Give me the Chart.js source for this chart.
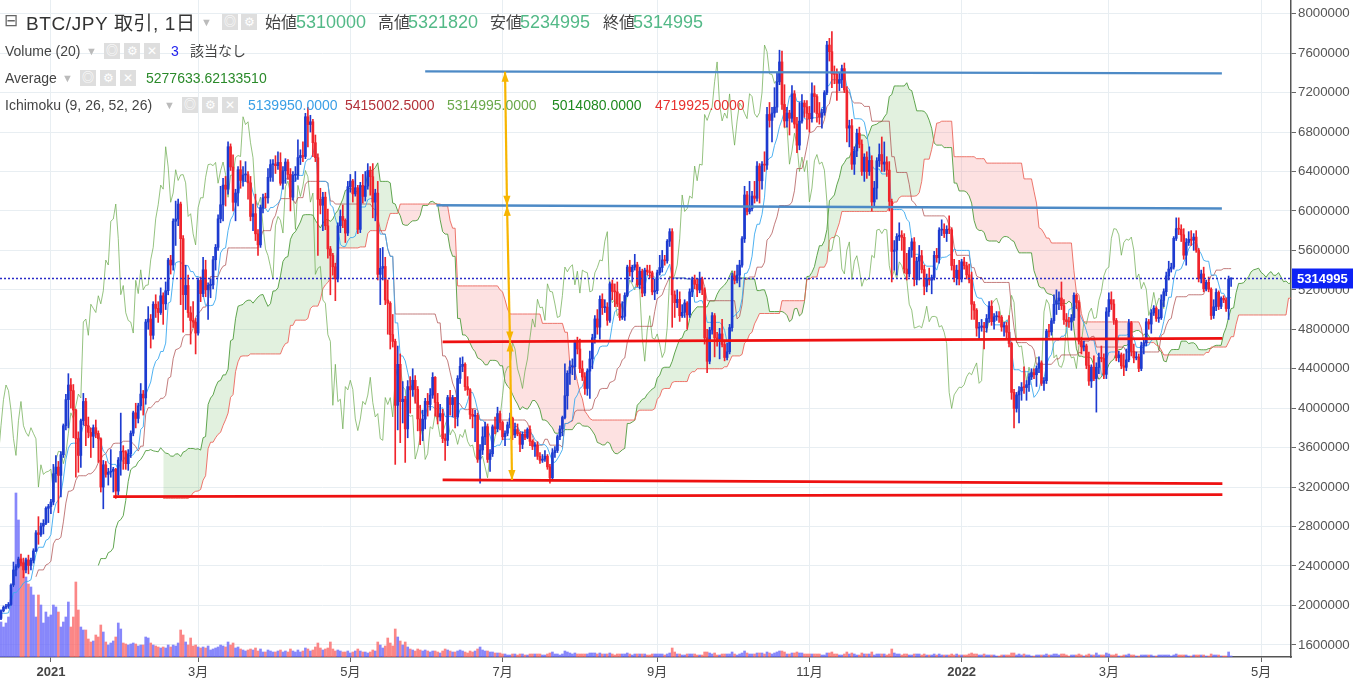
<!DOCTYPE html>
<html><head><meta charset="utf-8">
<script src="https://cdn.jsdelivr.net/npm/chart.js@4.4.1/dist/chart.umd.min.js"></script>
<style>
html,body{margin:0;padding:0;background:#fff;overflow:hidden}
#wrap{position:relative;width:1353px;height:685px}
#c{position:absolute;left:0;top:0}
#legend{position:absolute;left:0;top:0;width:800px;height:120px;pointer-events:none;font-family:'Liberation Sans','Noto Sans CJK JP',sans-serif;color:#444}
#legend span{position:absolute;white-space:nowrap;line-height:1}
.ic{width:16px;height:16px;background:#dedede;color:#fff;font-size:12px;line-height:16px!important;text-align:center}
.r1{font-size:18px}
.r2{font-size:14px}
.jp{font-family:'Noto Sans CJK JP',sans-serif}
.dd{color:#bbb;font-size:11px}
</style></head>
<body><div id="wrap"><canvas id="c" width="1353" height="685"></canvas>
<div id="legend">
 <span class="r1" style="left:4px;top:12px;color:#666;font-size:17px">⊟</span>
 <span class="r1" style="left:26px;top:12px;color:#333;font-size:19px;letter-spacing:0.6px">BTC/JPY <span class="jp" style="position:static">取引</span>, 1<span class="jp" style="position:static">日</span></span>
 <span class="dd" style="left:201px;top:17px">▼</span>
 <span class="ic" style="left:222px;top:14px">◎</span><span class="ic" style="left:241px;top:14px">⚙</span>
 <span class="jp" style="left:265px;top:13px;font-size:16px;color:#444">始値</span><span class="r1" style="left:296px;top:13px;color:#53b987">5310000</span>
 <span class="jp" style="left:378px;top:13px;font-size:16px;color:#444">高値</span><span class="r1" style="left:408px;top:13px;color:#53b987">5321820</span>
 <span class="jp" style="left:490px;top:13px;font-size:16px;color:#444">安値</span><span class="r1" style="left:520px;top:13px;color:#53b987">5234995</span>
 <span class="jp" style="left:603px;top:13px;font-size:16px;color:#444">終値</span><span class="r1" style="left:633px;top:13px;color:#53b987">5314995</span>

 <span class="r2" style="left:5px;top:44px">Volume (20)</span>
 <span class="dd" style="left:86px;top:46px">▼</span>
 <span class="ic" style="left:104px;top:43px">◎</span><span class="ic" style="left:124px;top:43px">⚙</span><span class="ic" style="left:144px;top:43px">✕</span>
 <span class="r2" style="left:171px;top:44px;color:#2222ee">3</span>
 <span class="jp" style="left:190px;top:43px;font-size:14px">該当なし</span>

 <span class="r2" style="left:5px;top:71px">Average</span>
 <span class="dd" style="left:62px;top:73px">▼</span>
 <span class="ic" style="left:80px;top:70px">◎</span><span class="ic" style="left:100px;top:70px">⚙</span><span class="ic" style="left:120px;top:70px">✕</span>
 <span class="r2" style="left:146px;top:71px;color:#2a8a2a">5277633.62133510</span>

 <span class="r2" style="left:5px;top:98px">Ichimoku (9, 26, 52, 26)</span>
 <span class="dd" style="left:164px;top:100px">▼</span>
 <span class="ic" style="left:182px;top:97px">◎</span><span class="ic" style="left:202px;top:97px">⚙</span><span class="ic" style="left:222px;top:97px">✕</span>
 <span class="r2" style="left:248px;top:98px;color:#3a9fe6">5139950.0000</span>
 <span class="r2" style="left:345px;top:98px;color:#b3323a">5415002.5000</span>
 <span class="r2" style="left:447px;top:98px;color:#6aa84a">5314995.0000</span>
 <span class="r2" style="left:552px;top:98px;color:#1f8a1f">5014080.0000</span>
 <span class="r2" style="left:655px;top:98px;color:#e8312f">4719925.0000</span>
</div></div>
<script>
// Daily bars from 2020-12-01 (day -31) to 2022-04-19 (day 473); day 0 = 2021-01-01.
// Prices in units of 10,000 JPY; volumes in units of 1,000 BTC.
const firstDay = -31;
const opens = [
204.0,194.6,198.7,201.3,193.5,198.2,200.2,198.6,189.6,192.0,189.0,186.9,194.6,198.1,199.2,201.0,220.6,236.0,239.5,247.0,243.0,236.0,246.2,240.5,245.7,255.3,273.6,271.9,280.3,283.2,298.5,
300.2,304.9,333.5,340.3,331.9,352.8,382.2,408.7,423.5,417.8,398.1,369.2,352.1,387.3,406.8,382.2,375.5,371.5,380.2,374.4,369.0,320.0,342.6,332.9,335.2,336.0,338.1,315.9,347.4,356.2,355.7,
343.7,353.8,374.6,395.3,389.6,402.4,414.3,410.4,487.4,490.4,473.9,505.4,501.2,497.0,514.0,505.8,519.1,550.2,545.2,589.6,591.8,607.0,571.9,515.1,524.4,496.8,488.9,487.3,
476.2,529.6,516.2,540.3,520.0,524.5,525.0,550.5,563.1,592.0,606.3,626.2,622.1,665.1,644.6,608.8,618.2,641.8,630.9,636.5,636.8,628.5,594.4,597.2,576.8,565.6,603.3,613.4,613.3,634.1,647.0,
647.5,645.9,649.2,628.1,640.7,649.6,637.1,613.9,636.2,636.4,654.1,656.2,655.2,695.5,687.6,690.4,669.2,654.0,611.8,605.8,614.0,584.9,561.5,554.8,543.4,531.1,585.0,594.4,590.5,577.6,
624.6,630.3,617.3,623.5,581.3,625.9,614.7,625.2,641.0,634.7,608.9,618.1,535.7,541.9,543.7,509.7,506.4,474.6,467.7,402.9,444.5,406.6,409.1,379.0,421.9,418.6,428.3,419.0,389.1,377.3,388.9,
406.9,403.7,413.3,431.3,405.8,391.1,394.5,369.2,367.4,410.8,403.7,410.7,391.1,430.1,442.4,444.5,421.8,418.6,393.7,391.8,392.7,348.4,357.6,371.0,381.3,348.0,353.8,381.1,379.0,394.5,
385.5,371.0,374.6,383.1,389.9,372.9,378.3,374.1,363.3,373.5,370.4,378.4,366.4,361.4,362.7,351.2,347.2,348.4,351.3,340.5,329.4,354.8,357.1,371.1,378.9,390.6,412.6,435.4,441.9,442.1,466.7,
460.0,440.1,431.6,420.0,437.6,449.9,471.4,490.5,482.2,510.4,501.9,502.5,489.1,526.1,518.4,517.9,505.7,492.0,493.2,514.3,543.1,538.3,542.9,545.4,525.1,538.9,516.7,540.0,538.3,537.3,517.9,
519.2,537.3,542.6,550.3,549.4,569.3,579.0,514.9,507.0,510.3,493.7,497.2,506.7,494.6,518.0,530.0,525.6,519.9,531.1,519.9,471.3,447.6,479.3,493.8,471.2,469.9,475.3,464.6,451.4,457.2,
481.7,534.1,529.6,535.0,545.1,571.8,616.2,599.5,602.3,615.1,612.9,645.5,630.6,647.4,646.5,697.8,691.8,699.3,705.3,731.0,751.1,708.0,691.3,699.3,694.0,718.7,688.1,666.7,691.1,709.4,705.5,
699.0,693.6,718.9,716.0,698.7,695.0,699.6,720.0,768.2,761.5,739.0,738.5,729.4,733.0,744.3,722.6,684.0,686.4,647.4,660.8,678.8,667.7,640.0,654.6,639.9,651.2,609.1,623.2,650.9,657.2,
647.5,649.6,641.4,609.7,559.0,560.3,574.1,575.4,573.2,541.1,536.2,560.2,568.6,530.5,549.1,554.6,540.6,523.6,531.5,529.8,532.5,555.0,552.5,580.6,581.4,577.1,581.4,580.8,544.6,532.3,539.9,
531.0,548.4,544.5,535.2,530.2,505.4,499.4,481.2,482.1,483.4,481.5,490.9,503.4,487.7,492.7,493.1,492.3,482.3,483.7,477.0,465.6,416.0,399.7,413.5,417.5,421.3,420.9,423.8,431.8,436.0,433.9,
440.3,445.9,425.2,427.9,478.2,477.4,488.7,505.4,508.9,511.7,503.9,489.6,487.8,487.4,491.7,514.4,507.3,467.8,462.2,463.1,443.5,427.5,441.6,430.0,441.4,451.5,450.4,434.3,
497.7,510.1,505.6,489.0,451.1,454.1,443.0,441.4,449.0,486.6,457.5,451.0,452.0,440.2,463.3,466.2,487.6,485.3,496.6,501.4,491.0,491.8,509.4,518.1,534.1,541.1,543.0,572.2,582.0,581.5,575.8,
555.1,568.0,571.4,570.3,573.5,560.3,531.4,536.1,521.1,527.6,520.6,494.0,502.8,517.4,503.2,511.4,509.7,501.0,531.0];
const highs = [
206.5,200.5,203.5,202.0,199.5,201.5,202.0,199.5,194.0,193.5,190.0,195.5,199.5,201.0,203.0,222.0,244.0,241.5,249.0,252.0,248.0,248.0,251.0,248.0,257.5,276.0,290.0,283.5,287.0,300.0,302.5,
307.5,343.0,352.0,346.0,356.0,384.0,414.0,435.0,430.0,424.0,399.0,376.0,389.0,415.0,410.0,391.0,380.0,383.0,388.0,377.0,370.0,347.0,346.0,339.0,358.0,340.0,339.0,350.0,395.0,362.0,357.0,
358.0,377.0,397.0,405.0,405.0,425.0,418.0,490.0,503.0,495.0,508.0,515.0,508.0,522.0,517.0,528.0,552.0,555.0,592.0,610.0,612.0,609.0,575.0,545.0,535.0,503.0,508.0,491.0,
532.0,533.0,553.0,550.0,527.0,531.0,554.0,566.0,596.0,625.0,633.0,635.0,670.0,668.0,657.0,622.0,645.0,651.0,645.0,650.0,640.0,635.0,607.0,617.0,581.0,606.0,617.0,618.0,643.0,652.0,652.0,
656.0,660.0,659.0,645.0,653.0,652.0,643.0,640.0,645.0,672.0,662.0,670.0,699.0,705.0,697.0,693.0,677.0,658.0,623.0,619.0,619.0,602.0,564.0,557.0,547.0,588.0,601.0,606.0,592.0,630.0,
637.0,632.0,640.0,626.0,629.0,637.0,640.0,648.0,645.0,648.0,622.0,630.0,562.0,563.0,553.0,530.0,508.0,495.0,470.0,463.0,455.0,427.0,412.0,428.0,432.0,440.0,433.0,422.0,403.0,398.0,410.0,
415.0,420.0,436.0,432.0,415.0,404.0,399.0,374.0,413.0,418.0,413.0,411.0,433.0,451.0,452.0,446.0,432.0,420.0,399.0,398.0,395.0,363.0,381.0,386.0,384.0,358.0,383.0,391.0,401.0,397.0,
387.0,377.0,386.0,395.0,391.0,385.0,384.0,376.0,376.0,378.0,380.0,382.0,368.0,365.0,366.0,355.0,353.0,357.0,353.0,343.0,359.0,361.0,373.0,382.0,392.0,445.0,438.0,448.0,450.0,469.0,472.0,
470.0,448.0,436.0,440.0,458.0,475.0,494.0,500.0,514.0,516.0,510.0,507.0,528.0,530.0,526.0,528.0,516.0,508.0,517.0,545.0,550.0,545.0,556.0,548.0,543.0,541.0,542.0,545.0,545.0,539.0,531.0,
540.0,555.0,560.0,555.0,571.0,582.0,582.0,519.0,520.0,518.0,505.0,510.0,508.0,521.0,533.0,535.0,531.0,538.0,533.0,522.0,480.0,482.0,497.0,496.0,477.0,481.0,490.0,469.0,466.0,485.0,
537.0,539.0,545.0,550.0,574.0,625.0,620.0,630.0,620.0,630.0,650.0,648.0,650.0,660.0,705.0,710.0,705.0,725.0,740.0,763.0,762.0,728.0,705.0,702.0,727.0,722.0,695.0,710.0,718.0,712.0,712.0,
706.0,730.0,727.0,718.0,710.0,703.0,722.0,772.0,775.0,782.0,747.0,744.0,740.0,748.0,750.0,726.0,692.0,693.0,665.0,683.0,685.0,672.0,658.0,660.0,665.0,656.0,630.0,654.0,668.0,675.0,
670.0,655.0,650.0,612.0,570.0,577.0,588.0,580.0,577.0,557.0,563.0,572.0,573.0,553.0,565.0,560.0,545.0,536.0,542.0,535.0,559.0,562.0,583.0,591.0,587.0,585.0,595.0,583.0,551.0,545.0,550.0,
551.0,553.0,548.0,546.0,538.0,508.0,501.0,487.0,490.0,487.0,495.0,508.0,509.0,496.0,498.0,498.0,494.0,487.0,487.0,494.0,467.0,419.0,416.0,422.0,426.0,442.0,428.0,435.0,440.0,440.0,443.0,
452.0,448.0,431.0,480.0,485.0,491.0,515.0,520.0,518.0,528.0,510.0,496.0,492.0,495.0,517.0,516.0,509.0,472.0,468.0,465.0,457.0,444.0,453.0,446.0,456.0,463.0,455.0,502.0,
517.0,518.0,510.0,491.0,458.0,456.0,455.0,460.0,490.0,488.0,465.0,457.0,455.0,467.0,470.0,491.0,490.0,500.0,504.0,503.0,500.0,515.0,521.0,538.0,549.0,547.0,574.0,593.0,593.0,586.0,582.0,
572.0,579.0,580.0,577.0,580.0,562.0,540.0,543.0,530.0,533.0,522.0,510.0,521.0,519.0,513.0,514.0,512.0,534.0,532.182];
const lows = [
189.0,192.0,196.5,192.0,191.5,196.0,197.0,187.5,182.5,186.5,182.0,185.5,193.5,196.5,197.0,200.0,219.0,230.0,238.0,240.0,228.0,233.0,232.0,236.0,243.0,254.5,262.0,270.0,272.5,282.0,284.0,
293.0,302.0,325.0,294.0,310.0,350.0,378.0,380.0,400.0,370.0,330.0,335.0,340.0,383.0,362.0,370.0,350.0,360.0,370.0,345.0,315.0,298.0,330.0,322.0,330.0,315.0,308.5,312.0,332.0,338.0,338.0,
337.0,350.0,372.0,380.0,385.0,398.0,393.0,404.0,480.0,461.0,470.0,492.0,487.0,495.0,485.0,500.0,515.0,536.0,540.0,565.0,585.0,505.0,477.0,500.0,492.0,465.0,482.0,455.0,
474.0,508.0,513.0,513.0,490.0,512.0,521.0,540.0,560.0,588.0,590.0,605.0,617.0,641.0,600.0,590.0,605.0,623.0,625.0,630.0,612.0,590.0,580.0,570.0,555.0,563.0,598.0,603.0,608.0,630.0,630.0,
638.0,642.0,626.0,622.0,628.0,632.0,600.0,611.0,630.0,632.0,647.0,650.0,653.0,665.0,680.0,655.0,650.0,555.0,597.0,580.0,581.0,552.0,515.0,535.0,509.0,528.0,578.0,583.0,568.0,575.0,
619.0,609.0,615.0,577.0,578.0,608.0,610.0,622.0,616.0,593.0,590.0,530.0,505.0,530.0,505.0,475.0,460.0,462.0,343.0,378.0,365.0,385.0,345.0,370.0,395.0,412.0,405.0,377.0,363.0,367.0,379.0,
392.0,398.0,410.0,392.0,384.0,387.0,365.0,347.0,362.0,393.0,391.0,380.0,382.0,425.0,437.0,418.0,413.0,389.0,380.0,366.0,345.0,324.0,353.0,363.0,345.0,336.0,351.0,374.0,376.0,378.0,
368.0,362.0,372.0,380.0,368.0,370.0,372.0,356.0,359.0,368.0,369.0,362.0,358.0,351.0,348.0,344.0,345.0,346.0,338.0,324.0,327.0,350.0,355.0,368.0,372.0,389.0,399.0,424.0,434.0,429.0,455.0,
436.0,428.0,414.0,413.0,410.0,440.0,466.0,475.0,470.0,495.0,497.0,484.0,487.0,510.0,503.0,503.0,489.0,490.0,489.0,513.0,534.0,528.0,540.0,523.0,521.0,513.0,514.0,535.0,532.0,515.0,510.0,
516.0,535.0,538.0,545.0,547.0,564.0,482.0,492.0,502.0,488.0,492.0,492.0,480.0,492.0,513.0,521.0,513.0,517.0,515.0,465.0,436.0,445.0,475.0,452.0,463.0,450.0,462.0,448.0,449.0,455.0,
478.0,526.0,527.0,523.0,543.0,568.0,596.0,597.0,600.0,608.0,610.0,608.0,622.0,640.0,642.0,685.0,670.0,695.0,700.0,728.0,703.0,685.0,685.0,677.0,690.0,684.0,659.0,662.0,689.0,695.0,683.0,
680.0,690.0,700.0,690.0,688.0,684.0,697.0,718.0,752.0,725.0,729.0,712.0,722.0,725.0,720.0,670.0,665.0,642.0,637.0,655.0,664.0,636.0,630.0,633.0,636.0,600.0,605.0,612.0,645.0,640.0,
640.0,635.0,600.0,528.0,540.0,535.0,570.0,560.0,537.0,530.0,533.0,553.0,524.0,525.0,530.0,537.0,515.0,518.0,525.0,516.0,530.0,548.0,547.0,575.0,573.0,569.0,577.0,540.0,528.0,525.0,525.0,
528.0,541.0,531.0,527.0,490.0,490.0,473.0,470.0,478.0,460.0,477.0,487.0,484.0,480.0,489.0,487.0,478.0,473.0,470.0,462.0,409.0,380.0,396.0,385.0,408.0,415.0,408.0,417.0,429.0,430.0,422.0,
436.0,423.0,418.0,425.0,472.0,474.0,486.0,495.0,500.0,500.0,485.0,483.0,482.0,479.0,489.0,501.0,465.0,455.0,458.0,440.0,423.0,421.0,428.0,396.0,435.0,447.0,430.0,430.0,
493.0,500.0,485.0,448.0,447.0,440.0,433.0,438.0,447.0,453.0,446.0,449.0,437.0,438.0,455.0,463.0,480.0,476.0,494.0,488.0,487.0,490.0,503.0,514.0,530.0,538.0,541.0,570.0,576.0,569.0,551.0,
545.0,565.0,565.0,560.0,558.0,528.0,527.0,518.0,519.0,518.0,490.0,491.0,499.0,500.0,501.0,507.0,498.0,490.0,523.4995];
const closes = [
194.6,198.7,201.3,193.5,198.2,200.2,198.6,189.6,192.0,189.0,186.9,194.6,198.1,199.2,201.0,220.6,236.0,239.5,247.0,243.0,236.0,246.2,240.5,245.7,255.3,273.6,271.9,280.3,283.2,298.5,300.2,
304.9,333.5,340.3,331.9,352.8,382.2,408.7,423.5,417.8,398.1,369.2,352.1,387.3,406.8,382.2,375.5,371.5,380.2,374.4,369.0,320.0,342.6,332.9,335.2,336.0,338.1,315.9,347.4,356.2,355.7,343.7,
353.8,374.6,395.3,389.6,402.4,414.3,410.4,487.4,490.4,473.9,505.4,501.2,497.0,514.0,505.8,519.1,550.2,545.2,589.6,591.8,607.0,571.9,515.1,524.4,496.8,488.9,487.3,476.2,
529.6,516.2,540.3,520.0,524.5,525.0,550.5,563.1,592.0,606.3,626.2,622.1,665.1,644.6,608.8,618.2,641.8,630.9,636.5,636.8,628.5,594.4,597.2,576.8,565.6,603.3,613.4,613.3,634.1,647.0,647.5,
645.9,649.2,628.1,640.7,649.6,637.1,613.9,636.2,636.4,654.1,656.2,655.2,695.5,687.6,690.4,669.2,654.0,611.8,605.8,614.0,584.9,561.5,554.8,543.4,531.1,585.0,594.4,590.5,577.6,624.6,
630.3,617.3,623.5,581.3,625.9,614.7,625.2,641.0,634.7,608.9,618.1,535.7,541.9,543.7,509.7,506.4,474.6,467.7,402.9,444.5,406.6,409.1,379.0,421.9,418.6,428.3,419.0,389.1,377.3,388.9,406.9,
403.7,413.3,431.3,405.8,391.1,394.5,369.2,367.4,410.8,403.7,410.7,391.1,430.1,442.4,444.5,421.8,418.6,393.7,391.8,392.7,348.4,357.6,371.0,381.3,348.0,353.8,381.1,379.0,394.5,385.5,
371.0,374.6,383.1,389.9,372.9,378.3,374.1,363.3,373.5,370.4,378.4,366.4,361.4,362.7,351.2,347.2,348.4,351.3,340.5,329.4,354.8,357.1,371.1,378.9,390.6,412.6,435.4,441.9,442.1,466.7,460.0,
440.1,431.6,420.0,437.6,449.9,471.4,490.5,482.2,510.4,501.9,502.5,489.1,526.1,518.4,517.9,505.7,492.0,493.2,514.3,543.1,538.3,542.9,545.4,525.1,538.9,516.7,540.0,538.3,537.3,517.9,519.2,
537.3,542.6,550.3,549.4,569.3,579.0,514.9,507.0,510.3,493.7,497.2,506.7,494.6,518.0,530.0,525.6,519.9,531.1,519.9,471.3,447.6,479.3,493.8,471.2,469.9,475.3,464.6,451.4,457.2,481.7,
534.1,529.6,535.0,545.1,571.8,616.2,599.5,602.3,615.1,612.9,645.5,630.6,647.4,646.5,697.8,691.8,699.3,705.3,731.0,751.1,708.0,691.3,699.3,694.0,718.7,688.1,666.7,691.1,709.4,705.5,699.0,
693.6,718.9,716.0,698.7,695.0,699.6,720.0,768.2,761.5,739.0,738.5,729.4,733.0,744.3,722.6,684.0,686.4,647.4,660.8,678.8,667.7,640.0,654.6,639.9,651.2,609.1,623.2,650.9,657.2,647.5,
649.6,641.4,609.7,559.0,560.3,574.1,575.4,573.2,541.1,536.2,560.2,568.6,530.5,549.1,554.6,540.6,523.6,531.5,529.8,532.5,555.0,552.5,580.6,581.4,577.1,581.4,580.8,544.6,532.3,539.9,531.0,
548.4,544.5,535.2,530.2,505.4,499.4,481.2,482.1,483.4,481.5,490.9,503.4,487.7,492.7,493.1,492.3,482.3,483.7,477.0,465.6,416.0,399.7,413.5,417.5,421.3,420.9,423.8,431.8,436.0,433.9,440.3,
445.9,425.2,427.9,478.2,477.4,488.7,505.4,508.9,511.7,503.9,489.6,487.8,487.4,491.7,514.4,507.3,467.8,462.2,463.1,443.5,427.5,441.6,430.0,441.4,451.5,450.4,434.3,497.7,
510.1,505.6,489.0,451.1,454.1,443.0,441.4,449.0,486.6,457.5,451.0,452.0,440.2,463.3,466.2,487.6,485.3,496.6,501.4,491.0,491.8,509.4,518.1,534.1,541.1,543.0,572.2,582.0,581.5,575.8,555.1,
568.0,571.4,570.3,573.5,560.3,531.4,536.1,521.1,527.6,520.6,494.0,502.8,517.4,503.2,511.4,509.7,501.0,531.0,531.4995];
const volumes = [
13.5,12.6,12.0,14.1,11.4,10.5,12.0,13.5,15.0,12.6,11.4,10.5,9.0,10.2,12.0,17.1,21.0,49.2,41.1,29.4,28.5,24.0,21.9,21.0,18.6,12.0,18.6,15.6,10.2,13.5,12.0,
12.6,15.6,15.0,13.5,9.0,10.5,12.0,16.5,9.0,12.0,22.5,14.1,9.0,8.1,8.1,5.4,4.5,4.8,6.6,6.0,9.6,7.5,4.5,3.6,4.2,4.8,6.0,10.2,8.4,4.2,3.9,
3.6,3.9,4.2,3.9,3.3,3.6,3.6,6.0,5.7,4.2,3.6,3.3,3.0,2.7,3.0,2.7,3.6,3.0,3.6,3.3,4.2,8.1,6.6,4.5,3.6,5.7,3.3,3.6,
3.0,2.7,3.0,2.7,3.3,2.1,2.4,2.7,3.0,3.6,3.3,3.0,4.5,3.6,4.2,2.7,3.0,2.4,2.1,1.8,2.1,2.4,2.1,2.7,1.8,2.4,1.5,1.5,2.1,1.8,1.5,
1.5,1.8,2.1,1.5,1.8,1.5,2.4,1.8,1.5,2.1,1.5,1.8,2.7,2.4,1.8,2.1,3.0,4.2,2.7,2.1,2.4,2.7,4.5,2.4,1.8,2.1,1.8,1.5,1.5,1.8,
1.2,1.5,1.8,2.4,1.8,1.5,1.5,1.2,1.5,2.1,1.8,4.5,3.6,2.7,3.3,5.7,4.2,3.3,8.4,6.0,4.8,3.6,4.5,3.0,2.4,2.1,1.8,2.4,2.1,1.8,2.1,
1.8,1.5,1.8,1.8,1.5,1.2,1.8,2.4,2.1,1.8,1.5,1.5,1.8,2.1,1.8,1.5,1.2,1.8,1.5,1.8,2.4,3.0,2.1,1.8,1.8,1.5,1.5,1.2,1.2,1.2,
0.9,0.9,0.6,0.6,0.9,0.9,0.6,0.9,0.9,0.6,0.6,0.9,0.9,0.9,0.9,0.9,0.6,0.6,0.9,1.2,1.5,0.9,0.9,0.6,0.9,1.8,1.5,1.2,0.9,1.2,0.9,
0.9,0.9,0.9,0.9,1.2,1.2,1.2,0.9,1.2,0.9,0.9,0.9,1.2,0.9,0.6,0.9,0.9,0.9,0.9,1.2,0.9,0.6,0.9,0.9,0.9,0.9,0.9,0.6,0.6,0.9,0.9,
0.9,0.9,0.9,0.6,0.9,1.2,2.7,1.5,0.9,0.9,0.6,0.6,0.9,0.9,0.9,0.9,0.6,0.6,0.6,1.5,1.5,1.2,0.9,1.2,0.6,0.6,0.9,0.9,0.9,0.9,
1.5,0.9,0.6,0.9,1.2,1.8,1.2,0.9,0.9,0.9,1.2,1.2,1.2,0.9,1.5,1.2,0.9,1.2,1.5,1.8,1.8,1.5,0.9,0.9,1.2,1.2,1.5,1.2,1.2,0.9,0.9,
0.9,0.9,0.9,0.9,0.9,0.6,0.6,1.2,1.2,1.5,0.9,0.9,0.6,0.6,0.9,1.5,0.9,1.2,0.9,0.6,0.6,1.2,0.9,0.9,0.9,1.5,0.6,0.9,0.9,0.9,
0.9,0.6,0.9,2.4,1.2,0.9,0.9,0.6,0.9,0.9,0.6,0.6,0.9,0.9,0.9,0.6,0.9,0.6,0.6,0.6,0.9,0.6,0.9,0.6,0.6,0.6,0.6,0.9,0.6,0.9,0.6,
0.6,0.6,0.6,0.9,1.2,0.9,0.9,0.6,0.6,0.9,0.6,0.6,0.6,0.6,0.3,0.3,0.6,0.6,0.6,0.6,1.2,1.2,0.6,0.9,0.6,0.9,0.6,0.6,0.3,0.3,0.6,
0.6,0.6,0.6,0.9,0.6,0.6,0.9,0.9,0.6,0.9,0.9,0.6,0.3,0.6,0.6,0.6,0.9,0.6,0.3,0.6,0.9,0.6,0.6,1.2,0.6,0.6,0.6,1.2,
0.9,0.6,0.6,0.9,0.3,0.3,0.6,0.6,0.9,0.6,0.6,0.3,0.3,0.6,0.6,0.6,0.6,0.6,0.3,0.3,0.6,0.6,0.6,0.6,0.6,0.3,0.6,0.9,0.6,0.6,0.6,
0.6,0.3,0.3,0.6,0.6,0.6,0.6,0.6,0.3,0.3,0.9,0.6,0.6,0.6,0.3,0.3,0.3,1.5,0.3];

// Axis ticks
const monthTickDays = [0, 59, 120, 181, 243, 304, 365, 424, 485];
const monthTickLabels = ['2021', '3月', '5月', '7月', '9月', '11月', '2022', '3月', '5月'];
const yearTickDays = [0, 365];
const yTickValues = [1600000,2000000,2400000,2800000,3200000,3600000,4000000,4400000,4800000,5200000,5600000,6000000,6400000,6800000,7200000,7600000,8000000];
const xRange = [-20.4, 497.0];
const yRange = [1477000, 8139000];

// Hand-drawn level lines (day, JPY)
const levelStartDays = [150.0, 154.5, 157.0, 157.0, 25.0];
const levelEndDays = [469.3, 469.3, 469.5, 469.5, 469.5];
const levelStartPrices = [7415000, 6058000, 4672000, 3273000, 3104000];
const levelEndPrices = [7395000, 6025000, 4708000, 3236000, 3124000];
// Measuring arrow (yellow): segment end points
const arrowDays = [182.0, 182.8, 184.0, 184.8];
const arrowPrices = [7412000, 6052000, 4676000, 3272000];

const MAN = 10000;
const N = closes.length;
const dayOf = i => firstDay + i;
const up = closes.map((c, i) => c >= opens[i]);

const UPC = '#1d3bd0', DNC = '#f0242c';
const wick = [], body = [], vol = [];
for (let i = 0; i < N; i++) {
  wick.push({x: dayOf(i), y: [lows[i]*MAN, highs[i]*MAN]});
  body.push({x: dayOf(i), y: [opens[i]*MAN, closes[i]*MAN]});
  vol.push({x: dayOf(i), y: volumes[i]});
}
function mid(i, p) {
  if (i < p - 1) return null;
  let h = -Infinity, l = Infinity;
  for (let k = i - p + 1; k <= i; k++) { if (highs[k] > h) h = highs[k]; if (lows[k] < l) l = lows[k]; }
  return (h + l) / 2 * MAN;
}
const tenkan = [], kijun = [], spanA = [], spanB = [], chikou = [];
for (let i = 0; i < N; i++) {
  const t = mid(i, 9), k = mid(i, 26), b = mid(i, 52);
  if (t !== null) tenkan.push({x: dayOf(i), y: t});
  if (k !== null) kijun.push({x: dayOf(i), y: k});
  if (t !== null && k !== null) spanA.push({x: dayOf(i + 25), y: (t + k) / 2});
  if (b !== null) spanB.push({x: dayOf(i + 25), y: b});
  chikou.push({x: dayOf(i - 25), y: closes[i] * MAN});
}
const lastPrice = Math.round(closes[N - 1] * MAN);

const lineBase = {type: 'line', pointRadius: 0, borderWidth: 1, tension: 0, yAxisID: 'y', xAxisID: 'x'};
const datasets = [
  Object.assign({}, lineBase, {data: spanA, borderColor: 'rgba(70,150,50,0.85)', order: 20,
    fill: {target: '+1', above: 'rgba(110,185,95,0.2)', below: 'rgba(245,120,120,0.22)'}}),
  Object.assign({}, lineBase, {data: spanB, borderColor: 'rgba(235,95,85,0.85)', order: 19, fill: false}),
  {type: 'bar', data: vol, yAxisID: 'vol', xAxisID: 'x', grouped: false, barThickness: 2,
    backgroundColor: up.map(u => u ? 'rgba(105,105,250,0.8)' : 'rgba(250,105,105,0.8)'), order: 15},
  Object.assign({}, lineBase, {data: chikou, borderColor: 'rgba(105,170,75,0.7)', order: 12}),
  Object.assign({}, lineBase, {data: kijun, borderColor: 'rgba(170,70,70,0.7)', order: 11}),
  Object.assign({}, lineBase, {data: tenkan, borderColor: 'rgba(60,170,240,0.9)', order: 10}),
  {type: 'bar', data: wick, yAxisID: 'y', xAxisID: 'x', grouped: false, barThickness: 1,
    backgroundColor: up.map(u => u ? UPC : DNC), order: 5},
  {type: 'bar', data: body, yAxisID: 'y', xAxisID: 'x', grouped: false, barThickness: 2, minBarLength: 1,
    backgroundColor: up.map(u => u ? UPC : DNC), order: 4},
  Object.assign({}, lineBase, {data: [{x: xRange[0], y: lastPrice}, {x: xRange[1], y: lastPrice}],
    borderColor: '#2a2ac8', borderWidth: 1.3, borderDash: [2, 2], order: 3})
];
for (let j = 0; j < levelStartDays.length; j++) {
  const red = j >= 2;
  datasets.push(Object.assign({}, lineBase, {
    data: [{x: levelStartDays[j], y: levelStartPrices[j]}, {x: levelEndDays[j], y: levelEndPrices[j]}],
    borderColor: red ? '#ee1111' : '#4d8ac6', borderWidth: red ? 2.8 : 2.3, order: 2}));
}
const ARROW = '#f7b500';
for (let j = 0; j < arrowDays.length - 1; j++) {
  datasets.push(Object.assign({}, lineBase, {
    data: [{x: arrowDays[j], y: arrowPrices[j]}, {x: arrowDays[j + 1], y: arrowPrices[j + 1]}],
    borderColor: ARROW, borderWidth: 2.2, order: 1}));
}

// arrowheads at both ends of each arrow segment, positioned through the scales
const arrowHeads = {
  id: 'arrowHeads',
  afterDatasetsDraw(chart) {
    const {ctx, scales: {x, y}} = chart;
    ctx.save();
    ctx.fillStyle = ARROW;
    for (let j = 0; j < arrowDays.length - 1; j++) {
      const x1 = x.getPixelForValue(arrowDays[j]), y1 = y.getPixelForValue(arrowPrices[j]);
      const x2 = x.getPixelForValue(arrowDays[j + 1]), y2 = y.getPixelForValue(arrowPrices[j + 1]);
      [[x1, y1, x2, y2], [x2, y2, x1, y1]].forEach(([tx, ty, fx, fy]) => {
        const a = Math.atan2(ty - fy, tx - fx), L = 10, W = 3.6;
        ctx.beginPath();
        ctx.moveTo(tx, ty);
        ctx.lineTo(tx - L * Math.cos(a) + W * Math.sin(a), ty - L * Math.sin(a) - W * Math.cos(a));
        ctx.lineTo(tx - L * Math.cos(a) - W * Math.sin(a), ty - L * Math.sin(a) + W * Math.cos(a));
        ctx.closePath();
        ctx.fill();
      });
    }
    ctx.restore();
  }
};

const priceTag = {
  id: 'priceTag',
  afterDraw(chart) {
    const ctx = chart.ctx, y = chart.scales.y.getPixelForValue(lastPrice);
    const x = chart.chartArea.right + 1;
    ctx.save();
    ctx.fillStyle = '#0d22f5';
    ctx.fillRect(x, y - 10, 62, 20);
    ctx.fillStyle = '#fff';
    ctx.font = 'bold 13px "Liberation Sans", Arial, sans-serif';
    ctx.textBaseline = 'middle';
    ctx.fillText(String(lastPrice), x + 5, y + 1);
    ctx.restore();
  }
};

Chart.defaults.font.family = "'Liberation Sans', 'Noto Sans CJK JP', Arial, sans-serif";
new Chart(document.getElementById('c'), {
  type: 'bar',
  data: {datasets},
  plugins: [arrowHeads, priceTag],
  options: {
    responsive: false, animation: false, devicePixelRatio: 1,
    layout: {padding: 0},
    plugins: {legend: {display: false}, tooltip: {enabled: false}},
    scales: {
      x: {
        type: 'linear', min: xRange[0], max: xRange[1], offset: false,
        grid: {offset: false, color: '#e8eef2', lineWidth: 1, drawTicks: true, tickLength: 5, tickColor: '#666'},
        border: {display: true, color: '#555', width: 1.5},
        afterBuildTicks: s => { s.ticks = monthTickDays.map(v => ({value: v})); },
        afterFit: s => { s.height = 28; s.paddingLeft = 0; s.paddingRight = 0; },
        ticks: {
          autoSkip: false, maxRotation: 0, padding: 3, color: '#444',
          callback: v => { const k = monthTickDays.indexOf(v); return k >= 0 ? monthTickLabels[k] : ''; },
          font: c => ({size: 13, weight: (c.tick && yearTickDays.includes(c.tick.value)) ? 'bold' : 'normal'})
        }
      },
      y: {
        position: 'right', min: yRange[0], max: yRange[1],
        grid: {color: '#e8eef2', lineWidth: 1, drawTicks: true, tickLength: 5, tickColor: '#666'},
        border: {display: true, color: '#555', width: 1.5},
        afterBuildTicks: s => { s.ticks = yTickValues.map(v => ({value: v})); },
        afterFit: s => { s.width = 62; s.paddingTop = 0; s.paddingBottom = 0; },
        ticks: {padding: 2, color: '#555', font: {size: 13.3}, callback: v => String(v)}
      },
      vol: {display: false, min: 0, max: 197.1, position: 'left'}
    }
  }
});
</script></body></html>
